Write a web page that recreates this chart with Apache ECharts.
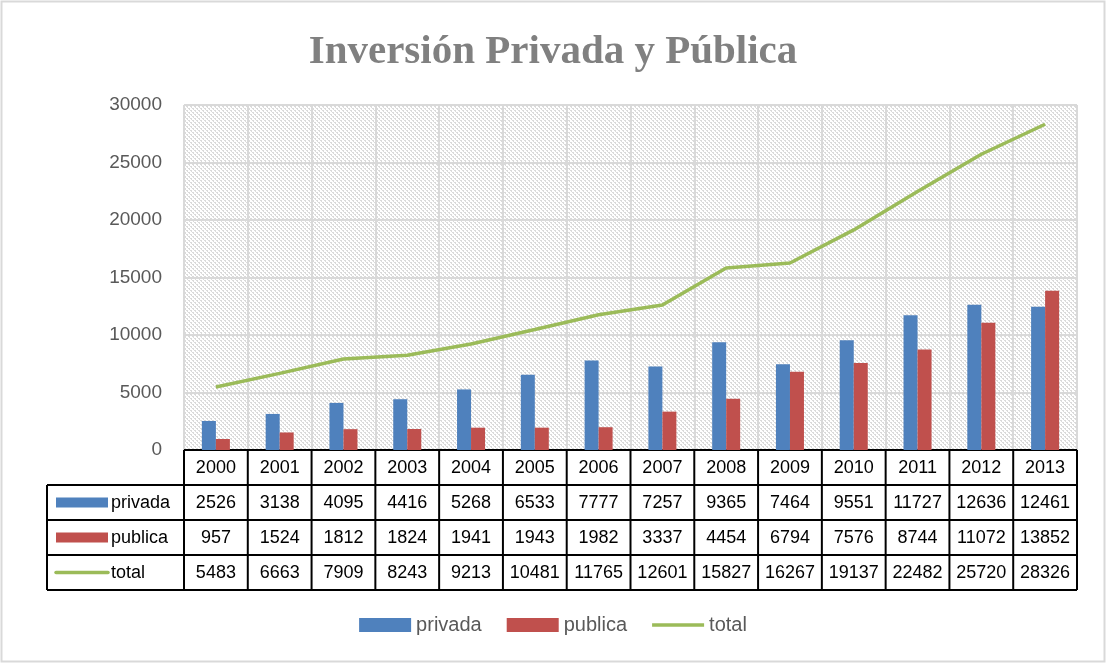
<!DOCTYPE html>
<html>
<head>
<meta charset="utf-8">
<script src="https://cdn.jsdelivr.net/npm/echarts@6/dist/echarts.min.js"></script>
<style>
  html, body { margin: 0; padding: 0; background: #fff; }
  #chart { width: 1106px; height: 664px; }
</style>
</head>
<body>
<div id="chart"></div>
<script>
// data
var years = ['2000', '2001', '2002', '2003', '2004', '2005', '2006', '2007', '2008', '2009', '2010', '2011', '2012', '2013']
var privada = [2526, 3138, 4095, 4416, 5268, 6533, 7777, 7257, 9365, 7464, 9551, 11727, 12636, 12461]
var publica = [957, 1524, 1812, 1824, 1941, 1943, 1982, 3337, 4454, 6794, 7576, 8744, 11072, 13852]
var total = [5483, 6663, 7909, 8243, 9213, 10481, 11765, 12601, 15827, 16267, 19137, 22482, 25720, 28326]
var yTicks = [0, 5000, 10000, 15000, 20000, 25000, 30000]

var colors = ['#4f81bd', '#c0504d', '#9bbb59']
var labelColor = '#595959'
var gridColor = '#d9d9d9'
var font = '"Liberation Sans", Arial, sans-serif'

// hatched plot background like excel's pattern fill
function makePattern() {
  var c = document.createElement('canvas')
  c.width = 8
  c.height = 8
  var ctx = c.getContext('2d')
  ctx.fillStyle = '#ffffff'
  ctx.fillRect(0, 0, 8, 8)
  ctx.fillStyle = '#dadada'
  for (var y = 0; y < 8; y++) {
    for (var x = 0; x < 8; x++) {
      if ((x - y + 16) % 4 === 0 || ((x - y + 16) % 4 === 1 && y % 2 === 0)) {
        ctx.fillRect(x, y, 1, 1)
      }
    }
  }
  return c
}

var gridLeft = 184
var gridRight = 29
var gridTop = 105
var gridBottom = 214

var myChart = echarts.init(document.getElementById('chart'))
var option = {
  animation: false,
  backgroundColor: '#fff',
  title: {
    text: 'Inversión Privada y Pública',
    left: 'center',
    top: 27,
    textStyle: {
      fontFamily: '"Liberation Serif", "DejaVu Serif", serif',
      fontSize: 41,
      fontWeight: 'bold',
      color: '#808080'
    }
  },
  legend: {
    bottom: 24,
    left: 'center',
    itemWidth: 52,
    itemHeight: 14,
    itemGap: 25,
    textStyle: { fontFamily: font, fontSize: 20, color: labelColor },
    data: [
      { name: 'privada', icon: 'rect' },
      { name: 'publica', icon: 'rect' },
      // thin bar for the line entry, padded with move points so it is not stretched
      { name: 'total', icon: 'path://M0,0M0,14M0,5.2L52,5.2L52,8.8L0,8.8Z' }
    ]
  },
  grid: {
    left: gridLeft,
    right: gridRight,
    top: gridTop,
    bottom: gridBottom,
    show: true,
    borderWidth: 0,
    backgroundColor: { image: makePattern(), repeat: 'repeat' }
  },
  xAxis: {
    type: 'category',
    data: years,
    axisLine: { show: false },
    axisTick: { show: false },
    axisLabel: { show: false },
    splitLine: { show: true, lineStyle: { color: gridColor, width: 2 } }
  },
  yAxis: {
    type: 'value',
    min: yTicks[0],
    max: yTicks[yTicks.length - 1],
    interval: yTicks[1] - yTicks[0],
    axisLine: { show: false },
    axisTick: { show: false },
    axisLabel: {
      fontFamily: font, fontSize: 19, color: labelColor, margin: 22,
      formatter: function (v) { return String(v) }
    },
    splitLine: { lineStyle: { color: gridColor, width: 2 } }
  },
  series: [
    {
      name: 'privada', type: 'bar', data: privada, barWidth: 14, barGap: '0%',
      itemStyle: { color: colors[0] }
    },
    {
      name: 'publica', type: 'bar', data: publica, barWidth: 14,
      itemStyle: { color: colors[1] }
    },
    {
      name: 'total', type: 'line', data: total, symbol: 'none',
      lineStyle: { color: colors[2], width: 3.5 },
      itemStyle: { color: colors[2] }
    }
  ]
}
myChart.setOption(option)

// data table under the plot, cells lined up on the category axis
function buildTable() {
  var els = []
  var rows = [
    { name: 'privada', vals: privada, color: colors[0], kind: 'bar' },
    { name: 'publica', vals: publica, color: colors[1], kind: 'bar' },
    { name: 'total', vals: total, color: colors[2], kind: 'line' }
  ]
  var rowH = 35
  var top = 664 - gridBottom
  var tableLeft = 47
  var x0 = gridLeft
  var x1 = 1106 - gridRight
  var half = (myChart.convertToPixel({ xAxisIndex: 0 }, 1) - myChart.convertToPixel({ xAxisIndex: 0 }, 0)) / 2
  var line = { stroke: '#000', lineWidth: 2 }
  var txt = function (x, y, s, align) {
    els.push({
      type: 'text', x: x, y: y,
      style: { text: s, fill: '#000', font: '18px ' + font, align: align || 'center', verticalAlign: 'middle' }
    })
  }
  // horizontal lines
  els.push({ type: 'line', shape: { x1: x0, y1: top, x2: x1, y2: top }, style: line })
  for (var r = 1; r <= 4; r++) {
    els.push({ type: 'line', shape: { x1: tableLeft, y1: top + rowH * r, x2: x1, y2: top + rowH * r }, style: line })
  }
  els.push({ type: 'line', shape: { x1: tableLeft, y1: top + rowH, x2: tableLeft, y2: top + rowH * 4 }, style: line })
  for (var i = 0; i < years.length; i++) {
    var cx = myChart.convertToPixel({ xAxisIndex: 0 }, i)
    els.push({ type: 'line', shape: { x1: cx - half, y1: top, x2: cx - half, y2: top + rowH * 4 }, style: line })
    txt(cx, top + rowH / 2 + 1, years[i])
    rows.forEach(function (row, k) {
      txt(cx, top + rowH * (k + 1) + rowH / 2 + 1, String(row.vals[i]))
    })
  }
  els.push({ type: 'line', shape: { x1: x1, y1: top, x2: x1, y2: top + rowH * 4 }, style: line })
  rows.forEach(function (row, k) {
    var cy = top + rowH * (k + 1) + rowH / 2
    if (row.kind === 'bar') {
      els.push({ type: 'rect', shape: { x: 56, y: cy - 5, width: 52, height: 10 }, style: { fill: row.color } })
    } else {
      els.push({ type: 'line', shape: { x1: 56, y1: cy, x2: 108, y2: cy }, style: { stroke: row.color, lineWidth: 3.5, lineCap: 'round' } })
    }
    txt(111, cy + 1, row.name, 'left')
  })
  // outer chart border
  els.push({ type: 'rect', shape: { x: 1.5, y: 1.5, width: 1103, height: 660 }, style: { fill: 'none', stroke: gridColor, lineWidth: 2 }, z: 100 })
  myChart.setOption({ graphic: els })
}
buildTable()
window.onresize = myChart.resize
</script>
</body>
</html>
